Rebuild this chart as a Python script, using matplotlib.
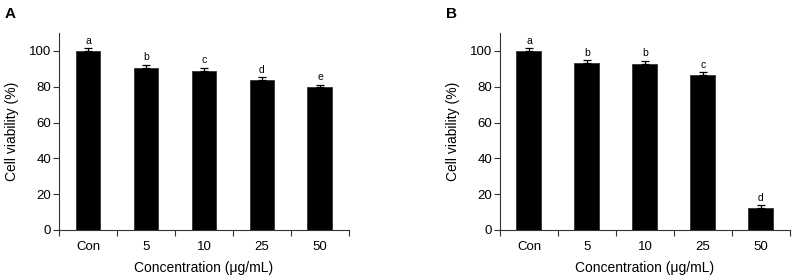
import matplotlib
matplotlib.use('Agg')
import matplotlib.pyplot as plt
import numpy as np

plt.rcParams['font.family'] = ['Liberation Sans', 'DejaVu Sans']

categories = ['Con', '5', '10', '25', '50']
values_a = [100.0, 90.5, 88.9, 83.5, 79.6]
errors_a = [1.5, 1.9, 1.8, 1.7, 1.6]
letters_a = ['a', 'b', 'c', 'd', 'e']
values_b = [100.0, 93.5, 92.9, 86.3, 12.4]
errors_b = [1.5, 1.6, 1.7, 1.9, 1.7]
letters_b = ['a', 'b', 'b', 'c', 'd']

fig = plt.figure(figsize=(7.96, 2.8), dpi=100)
ax_a = fig.add_axes([0.0741, 0.1786, 0.3643, 0.7034])
ax_b = fig.add_axes([0.6281, 0.1786, 0.3643, 0.7034])


def draw_panel(ax, values, errors, letters):
    x = np.arange(len(categories))
    ax.bar(x, values, width=0.43, color='black', edgecolor='#333333', linewidth=0.6)
    ax.errorbar(x, values, yerr=[np.zeros(len(values)), errors], fmt='none',
                ecolor='black', elinewidth=0.9, capsize=3.2, capthick=0.9)
    for xi, v, e, s in zip(x, values, errors, letters):
        ax.text(xi, v + e + 1.2, s, ha='center', va='bottom', fontsize=7.5)

    ax.set_xlim(-0.5, len(categories) - 0.5)
    ax.set_ylim(0, 110)
    ax.set_yticks([0, 20, 40, 60, 80, 100])
    ax.set_xticks(np.arange(-0.5, len(categories), 1.0))
    ax.set_xticklabels([])
    ax.set_xticks(x, minor=True)
    ax.set_xticklabels(categories, minor=True)
    ax.tick_params(axis='x', which='minor', length=0, labelsize=9.5, pad=8)
    ax.tick_params(axis='x', which='major', direction='out', length=4, width=0.8, color='#333333')
    ax.tick_params(axis='y', direction='out', length=4, width=0.8, color='#333333',
                   labelsize=9.5, pad=1.5)

    for side in ['top', 'right']:
        ax.spines[side].set_visible(False)
    for side in ['left', 'bottom']:
        ax.spines[side].set_linewidth(0.8)
        ax.spines[side].set_color('#333333')

    ax.set_xlabel('Concentration (\u03bcg/mL)', fontsize=10, labelpad=6)
    ax.set_ylabel('Cell viability (%)', fontsize=10, labelpad=7)


draw_panel(ax_a, values_a, errors_a, letters_a)
draw_panel(ax_b, values_b, errors_b, letters_b)

fig.text(0.006, 0.975, 'A', fontsize=11, fontweight='bold', va='top', ha='left')
fig.text(0.560, 0.975, 'B', fontsize=11, fontweight='bold', va='top', ha='left')

plt.savefig('out.png', dpi=100)
plt.close()
